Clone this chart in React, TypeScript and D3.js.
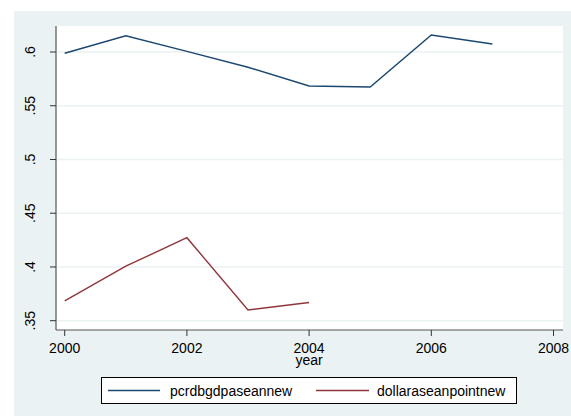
import React from "react";
import * as d3 from "d3";

const years = [2000, 2001, 2002, 2003, 2004, 2005, 2006, 2007];
const pcrdbgdpaseannew = [0.5988, 0.6151, 0.6006, 0.5858, 0.5684, 0.5675, 0.6158, 0.6074];
const dollarYears = [2000, 2001, 2002, 2003, 2004];
const dollaraseanpointnew = [0.3684, 0.4007, 0.4272, 0.3600, 0.3669];
const yTicks = [0.35, 0.4, 0.45, 0.5, 0.55, 0.6];
const yTickLabels = [".35", ".4", ".45", ".5", ".55", ".6"];
const xTicks = [2000, 2002, 2004, 2006, 2008];
const seriesNames = ["pcrdbgdpaseannew", "dollaraseanpointnew"];
const colors = ["#1a476f", "#90353b"];

const W = 571, H = 416;
const FONT = "Liberation Sans, Arial, sans-serif";

export default function App() {
  const x = d3.scaleLinear().domain([2000, 2008]).range([64.7, 553.5]);
  const y = d3.scaleLinear().domain([0.35, 0.6]).range([320.7, 52]);
  const plotL = 56, plotR = 563, plotT = 26, plotB = 330;

  const line = d3.line<[number, number]>().x(d => x(d[0])).y(d => y(d[1]));
  const s1 = line(years.map((yr, i) => [yr, pcrdbgdpaseannew[i]]));
  const s2 = line(dollarYears.map((yr, i) => [yr, dollaraseanpointnew[i]]));

  return (
    <svg width={W} height={H} style={{ position: "absolute", left: 0, top: 0, fontFamily: FONT, overflow: "hidden" }}>
      <rect x={0} y={0} width={W} height={H} fill="#ffffff" />
      <text x={22} y={-4} fontSize={20} fill="#000">Figure 1 (ASEAN 2000-2007)</text>
      <rect x={14} y={11} width={W - 14} height={H - 11} fill="#eaf2f3" />
      <rect x={plotL} y={plotT} width={plotR - plotL} height={plotB - plotT} fill="#ffffff" />
      {yTicks.map(t => (
        <line key={"g" + t} x1={plotL + 1} x2={plotR} y1={y(t)} y2={y(t)} stroke="#eaf2f3" strokeWidth={1.5} />
      ))}
      <path d={s1 || ""} fill="none" stroke={colors[0]} strokeWidth={1.4} />
      <path d={s2 || ""} fill="none" stroke={colors[1]} strokeWidth={1.4} />
      <line x1={plotL} x2={plotL} y1={plotT} y2={plotB} stroke="#555" strokeWidth={1.2} />
      <line x1={plotL} x2={plotR} y1={plotB} y2={plotB} stroke="#555" strokeWidth={1.2} />
      {yTicks.map((t, i) => (
        <g key={"y" + t}>
          <line x1={plotL - 6} x2={plotL} y1={y(t)} y2={y(t)} stroke="#333" strokeWidth={1} />
          <text transform={`translate(35,${y(t)}) rotate(-90)`} textAnchor="middle" fontSize={14} fill="#000">
            {yTickLabels[i]}
          </text>
        </g>
      ))}
      {xTicks.map(t => (
        <g key={"x" + t}>
          <line x1={x(t)} x2={x(t)} y1={plotB} y2={plotB + 6} stroke="#333" strokeWidth={1} />
          <text x={x(t)} y={353} textAnchor="middle" fontSize={14} fill="#000">{t}</text>
        </g>
      ))}
      <text x={x(2004)} y={364.5} textAnchor="middle" fontSize={14} fill="#000">year</text>
      <rect x={101.5} y={377.5} width={415} height={26} fill="#ffffff" stroke="#000" strokeWidth={1} />
      <line x1={108} x2={160} y1={390.5} y2={390.5} stroke={colors[0]} strokeWidth={1.4} />
      <text x={170} y={395.5} fontSize={14} fill="#000">{seriesNames[0]}</text>
      <line x1={316} x2={369} y1={390.5} y2={390.5} stroke={colors[1]} strokeWidth={1.4} />
      <text x={377} y={395.5} fontSize={14} fill="#000">{seriesNames[1]}</text>
    </svg>
  );
}
